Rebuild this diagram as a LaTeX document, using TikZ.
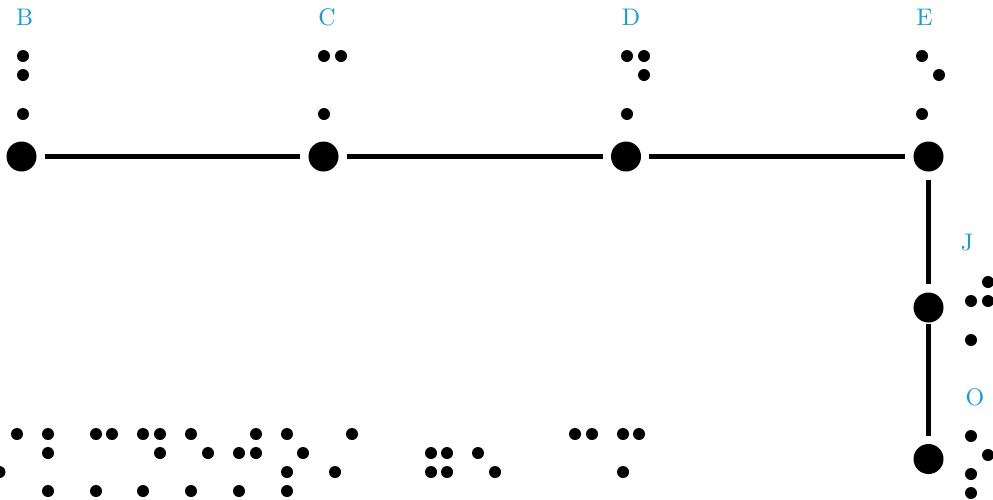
\documentclass[tikz,border=0pt]{standalone}
\usepackage{fontspec}
\newfontfamily\lblfont{lmroman10-regular.otf}
\definecolor{lblue}{RGB}{20,156,216}
\begin{document}
\begin{tikzpicture}[x=1pt,y=-1pt,
  bignode/.style={circle,fill=black,minimum size=30pt,inner sep=0pt},
  brdot/.style={circle,fill=black,minimum size=12pt,inner sep=0pt},
  lbl/.style={text=lblue,font=\lblfont\fontsize{24}{24}\selectfont,inner sep=0pt,anchor=base},
  link/.style={line width=4.8pt,shorten <=8pt,shorten >=8pt}]
\useasboundingbox (0,0) rectangle (993,499);
% main nodes
\node[bignode] (B) at (21.5,156.5) {};
\node[bignode] (C) at (323.5,156.5) {};
\node[bignode] (D) at (626,156.5) {};
\node[bignode] (E) at (928.5,156.5) {};
\node[bignode] (J) at (928.5,307.5) {};
\node[bignode] (O) at (928.5,459) {};
% labels
\node[lbl] (lB) at (24.5,25) {B};
\node[lbl] (lC) at (327,25) {C};
\node[lbl] (lD) at (631,25) {D};
\node[lbl] (lE) at (924.5,25) {E};
\node[lbl] (lJ) at (967,250) {J};
\node[lbl] (lO) at (975,405) {O};
% connectors
\draw[link] (B) -- (C);
\draw[link] (C) -- (D);
\draw[link] (D) -- (E);
\draw[link] (E) -- (J);
\draw[link,shorten <=1pt] (J) -- (O);
% braille dots near letters
\foreach \x/\y [count=\i] in {23/56,23/75,23/114,
  324/56,341/56,324/114,
  627/56,644/56,644/75,627/114,
  922/56,939/75,922/114,
  988/282,971/301,988/301,971/340,
  971/436,988/455,971/474,971/493}
  \node[brdot] (t\i) at (\x,\y) {};
% bottom braille row
\foreach \x/\y [count=\i] in {
  17/434,48/434,96/434,112/434,143/434,160/434,191/434,256/434,287/434,352/434,
  575/434,592/434,623/434,639/434,
  48/453,160/453,208/453,239/453,256/453,303/453,431/453,447/453,478/453,
  -0.5/472,287/472,335/472,431/472,447/472,495/472,623/472,
  48/491,96/491,143/491,191/491,239/491,287/491}
  \node[brdot] (w\i) at (\x,\y) {};
\end{tikzpicture}
\end{document}
